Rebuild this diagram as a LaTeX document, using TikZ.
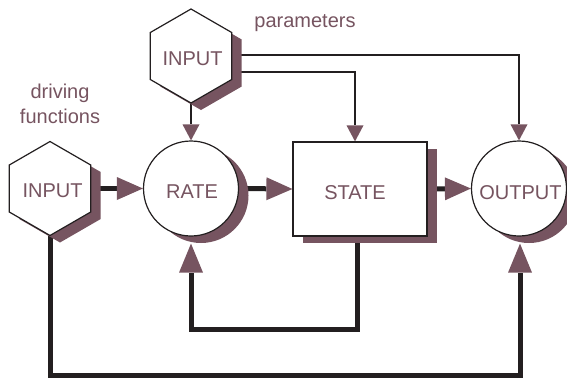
\documentclass[tikz,border=0pt]{standalone}
\usepackage{fontspec}
\setmainfont{Liberation Sans}
\usetikzlibrary{arrows.meta,shapes.geometric,shadows,backgrounds}
\definecolor{mauve}{RGB}{118,84,96}
\definecolor{ink}{RGB}{35,31,32}
\begin{document}
\begin{tikzpicture}[x=1bp,y=-1bp,
  font=\fontsize{20bp}{24bp}\selectfont,
  shade/.style={drop shadow={shadow xshift=10bp,shadow yshift=-7bp,fill=mauve,opacity=1,draw=none}},
  block/.style={draw=ink,line width=1.2bp,fill=white,inner sep=0pt,shade},
  hexbox/.style={block,regular polygon,regular polygon sides=6,shape border rotate=30,minimum size=94bp},
  circbox/.style={block,circle,minimum size=95bp},
  rectbox/.style={block,rectangle,minimum width=134bp,minimum height=94bp},
  txt/.style={text=mauve,inner sep=0pt},
  heavy/.style={draw=ink,line width=5bp,-{Triangle[length=26bp,width=23bp,color=mauve,line width=0pt]}},
  heavyup/.style={draw=ink,line width=5bp,-{Triangle[length=29bp,width=24bp,color=mauve,line width=0pt]}},
  fine/.style={draw=ink,line width=1.8bp,-{Triangle[length=16bp,width=17bp,color=mauve,line width=0pt]}}]
\useasboundingbox (0,0) rectangle (567,378);

% blocks
\node[hexbox] (inT) at (191,56) {};
\node[hexbox] (inL) at (50,188.5) {};
\node[circbox] (rate) at (191,188.5) {};
\node[rectbox] (state) at (360,189) {};
\node[circbox] (out) at (519,188.5) {};

% block captions
\node[txt] (tInT) at (192.5,59) {INPUT};
\node[txt] (tInL) at (52.5,191) {INPUT};
\node[txt] (tRate) at (192,192) {RATE};
\node[txt] (tState) at (355,192.5) {STATE};
\node[txt] (tOut) at (520.5,193) {OUTPUT};

% side labels
\node[txt,anchor=base] (par) at (305,27) {parameters};
\node[txt,anchor=base] (drv1) at (60,98) {driving};
\node[txt,anchor=base] (drv2) at (60,123) {functions};

% loop corners
\coordinate (loopA) at (191,329);
\coordinate (loopB) at (520,375);

\begin{pgfonlayer}{background}
  % main flow
  \draw[heavy] (inL.east) -- (rate.west);
  \draw[heavy] (rate.east) -- (state.west);
  \draw[heavy] (state.east) -- (out.west);
  % parameters
  \draw[fine] (inT.south) -- (rate.north);
  \draw[fine] ([yshift=1bp]inT.east) -| (out.north);
  \draw[fine] ([yshift=-16bp]inT.east) -| ([xshift=-5bp]state.north);
  % feedback loops
  \draw[heavyup] ([xshift=-3bp]state.south) |- (loopA) -- ([yshift=-7bp]rate.south);
  \draw[heavyup] (inL.south) |- (loopB) -- ([xshift=1bp,yshift=-7bp]out.south);
\end{pgfonlayer}
\end{tikzpicture}
\end{document}
